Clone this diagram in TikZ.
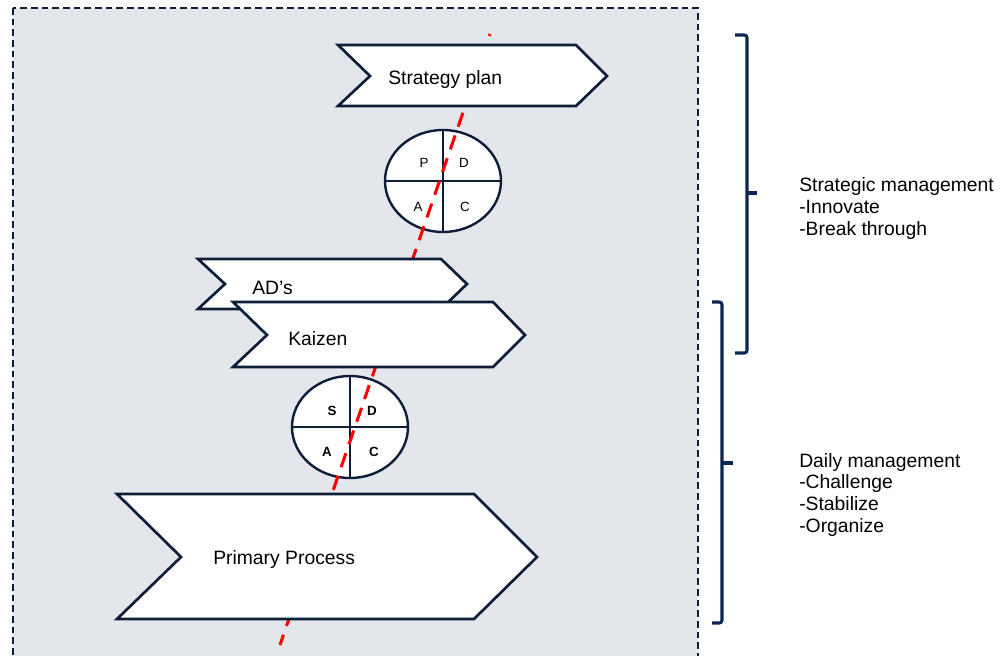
\documentclass[tikz,border=0pt]{standalone}
\usepackage{fontspec}
\setmainfont{Liberation Sans}
\usetikzlibrary{shapes.geometric}

\definecolor{navy}{HTML}{0E1D38}
\definecolor{panel}{HTML}{E3E6EA}
\definecolor{bracket}{HTML}{0B2650}

\tikzset{
  chevron/.style={draw=navy,fill=white,line width=2pt,line join=miter},
  wheel/.style={ellipse,draw=navy,fill=white,line width=1.8pt,
    minimum width=87pt,minimum height=76.5pt,inner sep=0pt},
  quarter/.style={font=\fontsize{10}{12}\selectfont},
  boldquarter/.style={font=\fontsize{10}{12}\selectfont\bfseries},
  boxtext/.style={anchor=base west,inner sep=0pt,font=\fontsize{14.5}{16}\selectfont},
  remark/.style={anchor=base west,inner sep=0pt,align=left,
    font=\fontsize{14.5}{16.2}\selectfont},
  redline/.style={red,line width=2.3pt,dash pattern=on 11pt off 7pt,dash phase=9.5pt},
  brace/.style={bracket,line width=2.3pt,rounded corners=2pt},
}

\begin{document}
\begin{tikzpicture}[x=0.75pt,y=-0.75pt]
  \useasboundingbox (0,0) rectangle (1007,656);
  \clip (0,0) rectangle (1007,656);

  % panel
  \draw[navy,fill=panel,line width=1.5pt,dash pattern=on 5pt off 3pt] (13,8) rectangle (698,690);

  % cycles
  \node[wheel] (pdca) at (443,181) {};
  \draw[navy,line width=1.8pt] (pdca.north) -- (pdca.south) (pdca.west) -- (pdca.east);
  \node[quarter] (p) at (424,163) {P};
  \node[quarter] (d1) at (464,163) {D};
  \node[quarter] (a1) at (418,207) {A};
  \node[quarter] (c1) at (465,207) {C};

  \node[wheel] (sdca) at (350,427) {};
  \draw[navy,line width=1.8pt] (sdca.north) -- (sdca.south) (sdca.west) -- (sdca.east);
  \node[boldquarter] (s) at (332,411) {S};
  \node[boldquarter] (d2) at (372,411) {D};
  \node[boldquarter] (a2) at (327,452) {A};
  \node[boldquarter] (c2) at (374,452) {C};

  % red line
  \coordinate (top) at (490,34);
  \coordinate (bottom) at (280,645);
  \draw[redline] (top) -- (bottom);

  % chevrons
  \draw[chevron] (338,45) -- (576,45) -- (607,76) -- (576,106) -- (338,106) -- (370,76) -- cycle;
  \node[boxtext] (strategy) at (388,85) {Strategy plan};

  \draw[chevron] (198,259) -- (441,259) -- (467,284) -- (441,309) -- (198,309) -- (225,284) -- cycle;
  \node[boxtext] (ads) at (252,294) {AD's};

  \draw[chevron] (233,302) -- (493,302) -- (525,335) -- (493,367) -- (233,367) -- (267,335) -- cycle;
  \node[boxtext] (kaizen) at (288,345) {Kaizen};

  \draw[chevron] (117,494) -- (474,494) -- (537,557) -- (474,619) -- (117,619) -- (181,557) -- cycle;
  \node[boxtext] (primary) at (213,564) {Primary Process};

  % brackets
  \draw[brace] (735,35) -- (747,35) -- (747,353) -- (735,353);
  \draw[brace] (747,193) -- (757,193);
  \draw[brace] (712,302) -- (722,302) -- (722,623) -- (712,623);
  \draw[brace] (722,463) -- (733,463);

  \node[remark] (strategic) at (799,235) {Strategic management\\-Innovate\\-Break through};
  \node[remark] (daily) at (799,532) {Daily management\\-Challenge\\-Stabilize\\-Organize};
\end{tikzpicture}
\end{document}
